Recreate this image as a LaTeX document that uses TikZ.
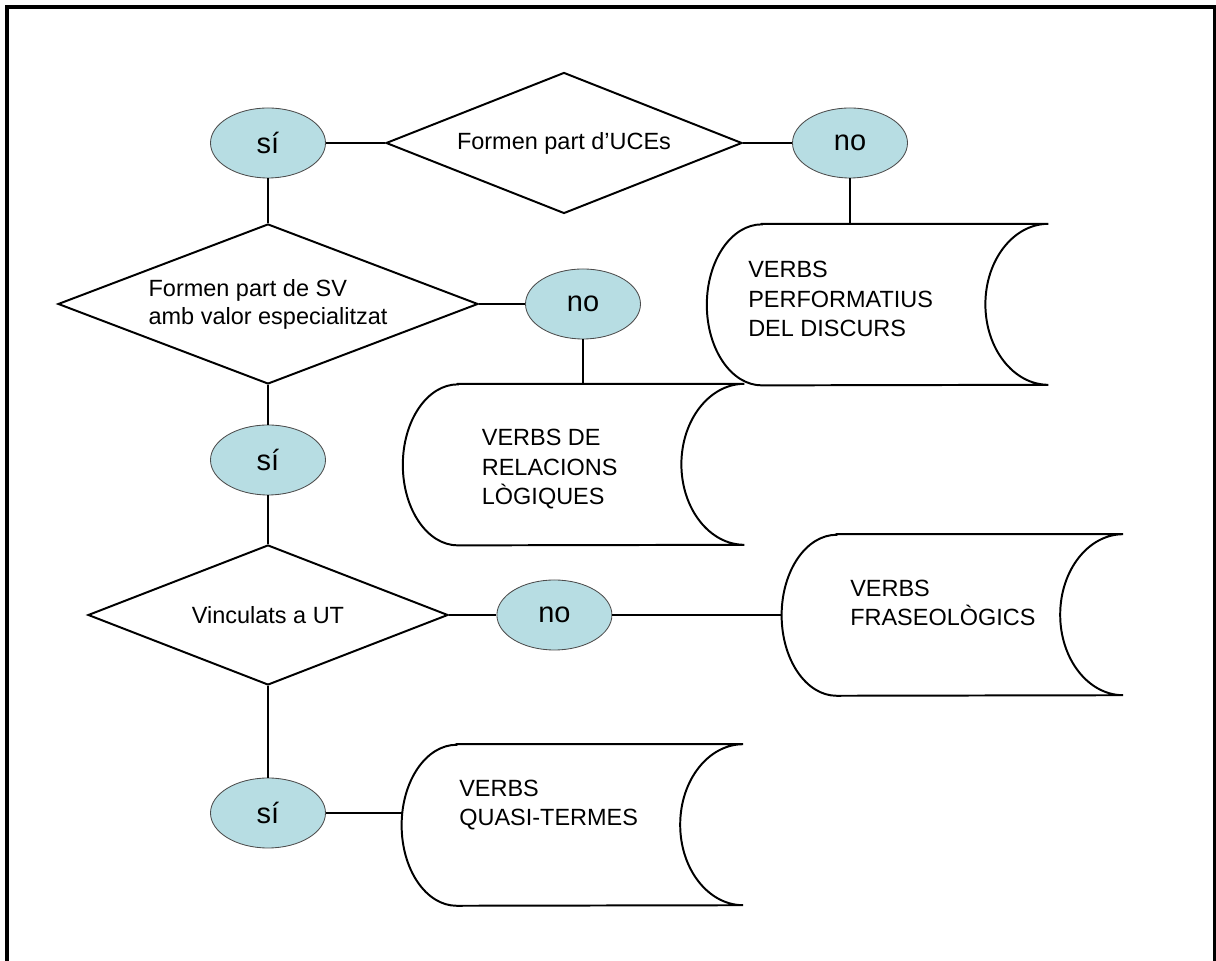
\documentclass[tikz,border=0pt]{standalone}
\usepackage{fontspec}
\setmainfont{Liberation Sans}
\usetikzlibrary{shapes.geometric}
\definecolor{oval}{RGB}{183,221,227}
\tikzset{
  yesno/.style={ellipse, draw=black!70, fill=oval, line width=0.6pt,
    minimum width=2.875cm, minimum height=1.75cm, inner sep=0pt,
    font=\fontsize{20.6}{24}\selectfont},
  question/.style={diamond, draw, line width=1.4pt, inner sep=0pt,
    font=\fontsize{16.7}{19.9}\selectfont},
  store/.style={rectangle, minimum width=8.525cm, minimum height=4.025cm, inner sep=0pt},
  storetext/.style={anchor=base west, align=left, inner sep=0pt,
    font=\fontsize{16.7}{21}\selectfont},
  link/.style={line width=0.8pt},
}
\begin{document}
\begin{tikzpicture}
  \useasboundingbox (0,0) rectangle (30.4,24.025);
  \draw[line width=2.4pt] (0.175,0) -- (0.175,23.85) -- (30.375,23.85) -- (30.375,0);

  % preguntes
  \node[question, minimum width=8.9cm, minimum height=3.525cm, aspect=2.5] (uce) at (14.1,20.45) {Formen part d’UCEs};
  \node[question, minimum width=10.5cm, minimum height=4cm, aspect=2.6, align=left] (sv) at (6.7,16.425) {Formen part de SV\\amb valor especialitzat};
  \node[question, minimum width=9cm, minimum height=3.5cm, aspect=2.6] (ut) at (6.7,8.65) {Vinculats a UT};

  % respostes
  \node[yesno] (si1) at (6.7,20.45) {sí};
  \node[yesno] (no1) at (21.25,20.45) {no};
  \node[yesno] (no2) at (14.575,16.425) {no};
  \node[yesno] (si2) at (6.7,12.525) {sí};
  \node[yesno] (no3) at (13.86,8.65) {no};
  \node[yesno] (si3) at (6.7,3.7) {sí};

  % classes de verbs
  \node[store] (perf) at (21.94,16.41) {};
  \node[store] (logiq) at (14.34,12.41) {};
  \node[store] (fras) at (23.81,8.65) {};
  \node[store] (quasi) at (14.31,3.40) {};
  \foreach \b in {perf,logiq,fras,quasi}
    \draw[line width=1.4pt] ([xshift=1.375cm]\b.north west) -- (\b.north east)
      arc[start angle=90, end angle=270, x radius=1.575cm, y radius=2.0125cm]
      -- ([xshift=1.375cm]\b.south west)
      arc[start angle=270, end angle=90, x radius=1.375cm, y radius=2.0125cm] -- cycle;
  \node[storetext] (perftxt) at (18.7,15.6) {VERBS\\PERFORMATIUS\\DEL DISCURS};
  \node[storetext] (logiqtxt) at (12.04,11.4) {VERBS DE\\RELACIONS\\LÒGIQUES};
  \node[storetext] (frastxt) at (21.25,8.375) {VERBS\\FRASEOLÒGICS};
  \node[storetext] (quasitxt) at (11.475,3.375) {VERBS\\QUASI-TERMES};

  % connexions
  \draw[link] (si1) -- (uce);
  \draw[link] (uce) -- (no1);
  \draw[link] (no1.south) -- (no1.south |- perf.north);
  \draw[link] (si1) -- (sv);
  \draw[link] (sv) -- (no2);
  \draw[link] (no2.south) -- (no2.south |- logiq.north);
  \draw[link] (sv) -- (si2);
  \draw[link] (si2) -- (ut);
  \draw[link] (ut) -- (no3);
  \draw[link] (no3.east) -- (no3.east -| fras.west);
  \draw[link] (ut) -- (si3);
  \draw[link] (si3.east) -- (si3.east -| quasi.west);
\end{tikzpicture}
\end{document}
